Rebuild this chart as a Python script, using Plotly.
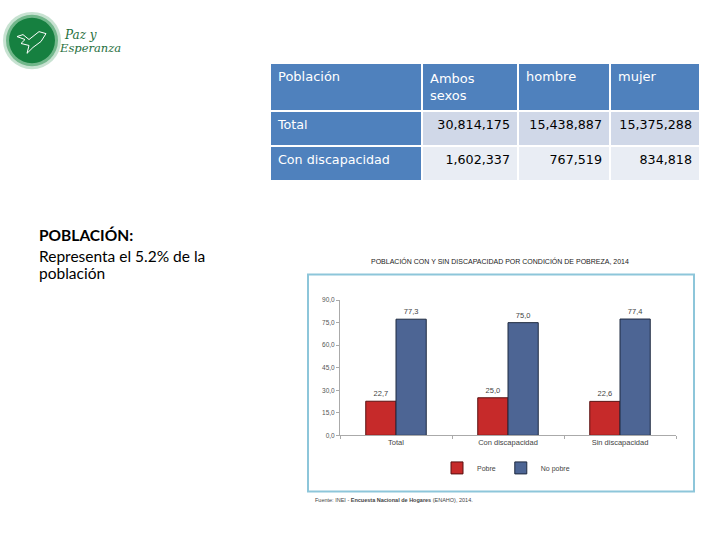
import plotly.graph_objects as go

W, H = 720, 540
def X(px): return px / W
def Y(py): return 1 - py / H

# ---- data ----
table_header = ["Población", "Ambos<br>sexos", "hombre", "mujer"]
row_labels = ["Total", "Con discapacidad"]
ambos = ["30,814,175", "1,602,337"]
hombre = ["15,438,887", "767,519"]
mujer = ["15,375,288", "834,818"]

categories = ["Total", "Con discapacidad", "Sin discapacidad"]
pobre = [22.7, 25.0, 22.6]
no_pobre = [77.3, 75.0, 77.4]
y_ticks = [0, 15, 30, 45, 60, 75, 90]

chart_title = "POBLACIÓN CON Y SIN DISCAPACIDAD POR CONDICIÓN DE POBREZA, 2014"
source = "Fuente: INEI - <b>Encuesta Nacional de Hogares</b> (ENAHO), 2014."

BLUE = "#4F81BD"
fig = go.Figure()

fig.add_trace(go.Table(
    domain=dict(x=[X(270), X(700)], y=[Y(400), Y(60)]),
    columnwidth=[152, 96, 92, 90],
    header=dict(values=table_header, fill_color=BLUE, line=dict(color="white", width=2),
                align="left", height=44,
                font=dict(family="DejaVu Sans", size=13, color="white")),
    cells=dict(values=[row_labels, ambos, hombre, mujer],
               fill_color=[[BLUE, BLUE], ["#D0D8E8", "#E9EDF4"], ["#D0D8E8", "#E9EDF4"], ["#D0D8E8", "#E9EDF4"]],
               line=dict(color="white", width=2),
               align=["left", "right", "right", "right"], height=35,
               font=dict(family="DejaVu Sans", size=12.7, color=["white", "black", "black", "black"])),
))

fig.add_trace(go.Bar(x=categories, y=pobre, name="Pobre",
                     marker=dict(color="#C62A2A", line=dict(color="#5a1010", width=1)),
                     text=[f"{v:.1f}".replace(".", ",") for v in pobre], textposition="outside",
                     textfont=dict(size=7.5, color="#444", family="Liberation Sans"), cliponaxis=False))
fig.add_trace(go.Bar(x=categories, y=no_pobre, name="No pobre",
                     marker=dict(color="#4D6594", line=dict(color="#1f2a40", width=1)),
                     text=[f"{v:.1f}".replace(".", ",") for v in no_pobre], textposition="outside",
                     textfont=dict(size=7.5, color="#444", family="Liberation Sans"), cliponaxis=False))

shapes = [
    # chart frame
    dict(type="rect", xref="paper", yref="paper", x0=X(308), x1=X(694), y0=Y(494), y1=Y(274),
         line=dict(color="#8DC6DA", width=2), fillcolor="rgba(0,0,0,0)", layer="below"),
    # logo circle (soft edge)
    dict(type="circle", xref="paper", yref="paper", x0=X(3), x1=X(61), y0=Y(66), y1=Y(8),
         fillcolor="rgba(30,140,70,0.25)", line=dict(width=0)),
    dict(type="circle", xref="paper", yref="paper", x0=X(6), x1=X(58), y0=Y(63), y1=Y(11),
         fillcolor="rgba(30,140,70,0.5)", line=dict(width=0)),
    dict(type="circle", xref="paper", yref="paper", x0=X(9), x1=X(55), y0=Y(60), y1=Y(14),
         fillcolor="#168040", line=dict(width=0)),
]
# dove outline
dove_px = [(17, 33), (23, 31), (29, 36), (39, 28), (46, 30), (41, 38), (33, 44), (27, 50), (29, 42), (21, 40), (25, 36), (17, 33)]
path = "M " + " L ".join(f"{X(a):.5f},{Y(b):.5f}" for a, b in dove_px) + " Z"
shapes.append(dict(type="path", xref="paper", yref="paper", path=path,
                   line=dict(color="white", width=1), fillcolor="rgba(0,0,0,0)"))

annotations = [
    dict(text="<i>Paz y</i>", x=X(62), y=Y(31), xanchor="left", yanchor="middle", showarrow=False,
         font=dict(family="DejaVu Serif", size=12, color="#1E6E3C"), xref="paper", yref="paper"),
    dict(text="<i>Esperanza</i>", x=X(57), y=Y(45), xanchor="left", yanchor="middle", showarrow=False,
         font=dict(family="DejaVu Serif", size=11.5, color="#1E6E3C"), xref="paper", yref="paper"),
    dict(text="<b>POBLACIÓN:</b>", x=X(37), y=Y(234), xanchor="left", yanchor="middle", showarrow=False,
         font=dict(family="Lato", size=15.5, color="black"), xref="paper", yref="paper"),
    dict(text="Representa el 5.2% de la", x=X(37), y=Y(255), xanchor="left", yanchor="middle", showarrow=False,
         font=dict(family="Lato", size=15.5, color="black"), xref="paper", yref="paper"),
    dict(text="población", x=X(37), y=Y(273), xanchor="left", yanchor="middle", showarrow=False,
         font=dict(family="Lato", size=15.5, color="black"), xref="paper", yref="paper"),
    dict(text=chart_title, x=X(500), y=Y(260), xanchor="center", yanchor="middle", showarrow=False,
         font=dict(family="Liberation Sans", size=7, color="#222"), xref="paper", yref="paper"),
    dict(text=source, x=X(313), y=Y(503), xanchor="left", yanchor="middle", showarrow=False,
         font=dict(family="Liberation Sans", size=5.5, color="#444"), xref="paper", yref="paper"),
]

fig.update_layout(
    width=W, height=H, margin=dict(l=0, r=0, t=0, b=0),
    paper_bgcolor="white", plot_bgcolor="white",
    barmode="group", bargap=0.46, bargroupgap=0,
    separators=",.",
    xaxis=dict(domain=[X(340), X(676)], showline=True, linecolor="#aaa", linewidth=1,
               ticks="outside", tickson="boundaries", ticklen=3, tickcolor="#aaa",
               tickfont=dict(family="Liberation Sans", size=7.5, color="#444"), anchor="y"),
    yaxis=dict(domain=[Y(437), Y(300)], range=[0, 90], tickvals=y_ticks, tickformat=".1f",
               showline=True, linecolor="#aaa", linewidth=1, ticks="outside", ticklen=3, tickcolor="#aaa",
               showgrid=False, zeroline=False,
               tickfont=dict(family="Liberation Sans", size=6.5, color="#555")),
    legend=dict(orientation="h", x=X(506), y=Y(470), xanchor="center", yanchor="middle",
                font=dict(family="Liberation Sans", size=7, color="#444"), itemwidth=30,
                bgcolor="rgba(0,0,0,0)"),
    shapes=shapes, annotations=annotations,
)

fig.write_html("out.html", config={"displayModeBar": False},
               post_script="document.body.style.margin='0';")
